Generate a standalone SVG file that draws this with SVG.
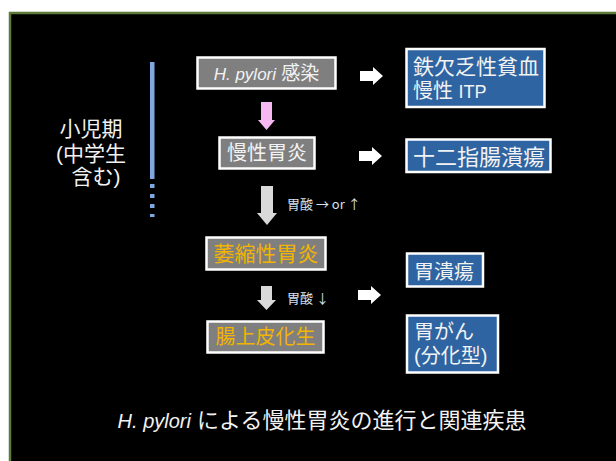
<svg xmlns="http://www.w3.org/2000/svg" width="616" height="461" viewBox="0 0 616 461">
<style>
text{font-family:"Liberation Sans","Noto Sans CJK JP",sans-serif;}
.gray{fill:#7f7f7f;stroke:#ffffff;stroke-width:2.5;}
.blue{fill:#2e64a1;stroke:#ffffff;stroke-width:2.5;}
.wt{fill:#f2f2f2;}
.gold{fill:#f2b400;}
.lbl{fill:#d6e2ee;font-size:13px;font-family:"Noto Sans CJK JP",sans-serif;}
.it{font-style:italic;}
.warr{fill:#ffffff;}
.garr{fill:#d9d9d9;}
</style>
<rect x="0" y="0" width="616" height="461" fill="#ffffff"/>
<rect x="10" y="13" width="620" height="460" fill="#000000" stroke="#5b7a3c" stroke-width="2.5"/>

<g id="period">
  <rect x="150" y="62" width="4.5" height="117" fill="#7fa8e0"/>
  <rect x="150" y="184" width="4.5" height="4" fill="#7fa8e0"/>
  <rect x="150" y="194" width="4.5" height="4" fill="#7fa8e0"/>
  <rect x="150" y="204" width="4.5" height="4" fill="#7fa8e0"/>
  <rect x="150" y="214" width="4.5" height="3" fill="#7fa8e0"/>
  <text x="91" y="136" text-anchor="middle" font-size="21" class="wt">小児期</text>
  <text x="91" y="161" text-anchor="middle" font-size="21" class="wt">(中学生</text>
  <text x="96" y="184" text-anchor="middle" font-size="21" class="wt">含む)</text>
</g>

<g id="n-hpylori">
  <rect x="197.5" y="57.5" width="138" height="31" class="gray"/>
  <text x="266.5" y="80" text-anchor="middle" font-size="19" class="wt"><tspan class="it" font-size="17">H. pylori</tspan> 感染</text>
</g>
<g id="n-chronic">
  <rect x="219.5" y="137.5" width="95" height="31" class="gray"/>
  <text x="267" y="160" text-anchor="middle" font-size="20" class="wt">慢性胃炎</text>
</g>
<g id="n-atrophic">
  <rect x="206.5" y="237.5" width="119" height="32" class="gray"/>
  <text x="266" y="261" text-anchor="middle" font-size="21" class="gold">萎縮性胃炎</text>
</g>
<g id="n-intestinal">
  <rect x="207.5" y="321.5" width="116" height="31" class="gray"/>
  <text x="265.5" y="344" text-anchor="middle" font-size="20" class="gold">腸上皮化生</text>
</g>

<g id="n-ida">
  <rect x="406.5" y="49" width="138" height="58" class="blue"/>
  <text x="413" y="74" font-size="21" class="wt">鉄欠乏性貧血</text>
  <text x="413" y="98" font-size="20" class="wt">慢性 <tspan font-size="18">ITP</tspan></text>
</g>
<g id="n-du">
  <rect x="406.5" y="139.5" width="144" height="32.5" class="blue"/>
  <text x="413" y="165" font-size="22" class="wt">十二指腸潰瘍</text>
</g>
<g id="n-gu">
  <rect x="407" y="253.5" width="76" height="33" class="blue"/>
  <text x="414" y="279" font-size="20" class="wt">胃潰瘍</text>
</g>
<g id="n-gc">
  <rect x="407" y="315.5" width="91" height="57" class="blue"/>
  <text x="414" y="339" font-size="20" class="wt">胃がん</text>
  <text x="414" y="363" font-size="20" class="wt">(分化型)</text>
</g>

<g id="connectors">
  <polygon points="261,102 272,102 272,120 275,120 266.5,130 258,120 261,120" fill="#f6b8f0"/>
  <polygon points="261,186 273,186 273,213 277,213 267,225 257,213 261,213" class="garr"/>
  <polygon points="261,286 272,286 272,300 276,300 266.5,310 257,300 261,300" class="garr"/>
  <polygon points="360,71 373,71 373,67 383,76 373,85 373,81 360,81" class="warr"/>
  <polygon points="359,151 372,151 372,147 382,156 372,165 372,161 359,161" class="warr"/>
  <polygon points="358,290 371,290 371,286 381,295 371,304 371,300 358,300" class="warr"/>
  <text x="287" y="209" class="lbl">胃酸 → or ↑</text>
  <text x="287" y="303" class="lbl">胃酸 ↓</text>
</g>

<g id="caption">
  <text x="322" y="428" text-anchor="middle" font-size="22" class="wt"><tspan class="it" font-size="20">H. pylori</tspan> による慢性胃炎の進行と関連疾患</text>
</g>
</svg>
